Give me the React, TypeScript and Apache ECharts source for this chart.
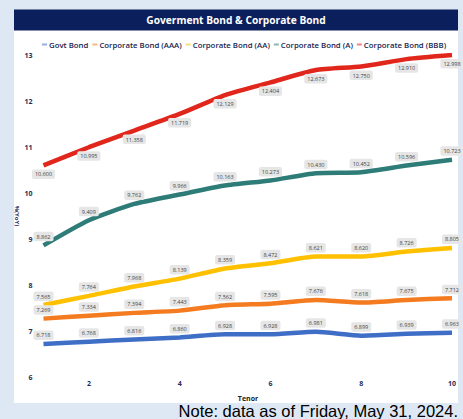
import React, { useEffect, useRef } from "react";
import * as echarts from "echarts";

const tenors = [1, 2, 3, 4, 5, 6, 7, 8, 9, 10];
const seriesNames = [
  "Govt Bond",
  "Corporate Bond (AAA)",
  "Corporate Bond (AA)",
  "Corporate Bond (A)",
  "Corporate Bond (BBB)",
];
const govt = [6.718, 6.768, 6.816, 6.86, 6.928, 6.928, 6.981, 6.899, 6.939, 6.963];
const aaa = [7.269, 7.334, 7.394, 7.443, 7.562, 7.595, 7.676, 7.618, 7.675, 7.712];
const aa = [7.565, 7.764, 7.968, 8.139, 8.359, 8.472, 8.621, 8.62, 8.726, 8.805];
const singleA = [8.862, 9.409, 9.762, 9.966, 10.163, 10.273, 10.43, 10.452, 10.596, 10.723];
const bbb = [10.6, 10.995, 11.358, 11.719, 12.129, 12.404, 12.673, 12.75, 12.91, 12.998];
const colors = ["#3f6ec6", "#f47b20", "#ffc000", "#2e7c78", "#e1261c"];
const labelPos = ["top", "top", "top", "top", "bottom"];
const allData = [govt, aaa, aa, singleA, bbb];

const FONT = "'Open Sans', 'Noto Sans', sans-serif";

export default function App() {
  const ref = useRef<HTMLDivElement>(null);
  useEffect(() => {
    if (!ref.current) return;
    const chart = echarts.init(ref.current, null, { renderer: "svg" });
    chart.setOption({
      animation: false,
      backgroundColor: "#dde8f4",
      graphic: [
        { type: "rect", shape: { x: 14, y: 30, width: 444, height: 373 }, style: { fill: "#ffffff" }, z: -10 },
        { type: "rect", shape: { x: 14, y: 9.5, width: 444, height: 21 }, style: { fill: "#0b1f5c" }, z: -10 },
        {
          type: "text",
          x: 236,
          y: 20,
          style: {
            text: "Goverment Bond & Corporate Bond",
            fill: "#ffffff",
            font: `bold 10.2px ${FONT}`,
            align: "center",
            verticalAlign: "middle",
          },
        },
        {
          type: "text",
          x: 17,
          y: 216,
          rotation: -Math.PI / 2,
          style: {
            text: "%(YoY)",
            fill: "#1f2d5a",
            font: `bold 6px ${FONT}`,
            align: "center",
            verticalAlign: "middle",
          },
        },
        {
          type: "text",
          x: 248,
          y: 398,
          style: {
            text: "Tenor",
            fill: "#222222",
            font: `bold 7px ${FONT}`,
            align: "center",
            verticalAlign: "middle",
          },
        },
        {
          type: "text",
          x: 458,
          y: 411,
          style: {
            text: "Note: data as of Friday, May 31, 2024.",
            fill: "#000000",
            font: "16.5px 'Liberation Sans', Arial, sans-serif",
            align: "right",
            verticalAlign: "middle",
          },
        },
      ],
      legend: {
        left: 37,
        top: 35.5,
        width: 425,
        itemWidth: 5,
        itemHeight: 2,
        itemGap: 4,
        icon: "rect",
        textStyle: { fontFamily: FONT, fontWeight: 600, fontSize: 7.8, color: "#18244f", padding: [0, 0, 0, -3] },
        data: seriesNames.map((n, i) => ({ name: n, itemStyle: { color: colors[i], opacity: 0.55 } })),
      },
      grid: { left: 43.5, right: 11, top: 55, bottom: 42, containLabel: false },
      xAxis: {
        type: "value",
        min: 1,
        max: 10,
        interval: 1,
        axisLine: { show: false },
        axisTick: { show: false },
        splitLine: { show: false },
        axisLabel: {
          margin: 3,
          fontFamily: FONT,
          fontWeight: "bold",
          fontSize: 7,
          color: "#1f2d5a",
          formatter: (v: number) => (v % 2 === 0 ? String(v) : ""),
        },
      },
      yAxis: {
        type: "value",
        min: 6,
        max: 13,
        interval: 1,
        axisLine: { show: false },
        axisTick: { show: false },
        splitLine: { show: false },
        axisLabel: { margin: 11, fontFamily: FONT, fontWeight: "bold", fontSize: 7, color: "#1f2d5a" },
      },
      series: seriesNames.map((n, i) => ({
        name: n,
        type: "line",
        smooth: 0.2,
        symbol: "circle",
        symbolSize: 0,
        showSymbol: true,
        lineStyle: { width: 4.5, color: colors[i] },
        itemStyle: { color: colors[i] },
        data: tenors.map((t, j) => [t, allData[i][j]]),
        labelLayout: { hideOverlap: false },
        label: {
          show: true,
          position: labelPos[i],
          distance: 4,
          fontFamily: FONT,
          fontSize: 5.5,
          color: "#444444",
          backgroundColor: "#e6e6e6",
          borderRadius: 2,
          padding: [2, 3, 1.5, 3],
          formatter: (p: any) => p.value[1].toFixed(3),
        },
      })),
    });
    return () => chart.dispose();
  }, []);
  return <div ref={ref} style={{ position: "fixed", left: 0, top: 0, width: 463, height: 419 }} />;
}
